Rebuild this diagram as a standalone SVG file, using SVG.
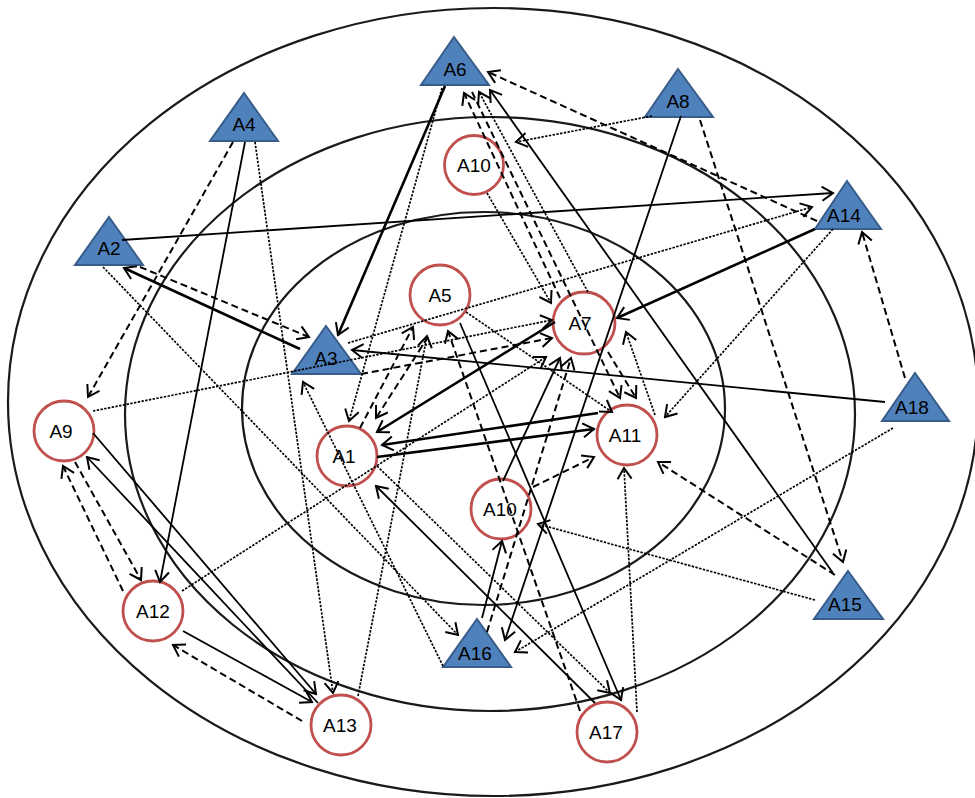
<svg xmlns="http://www.w3.org/2000/svg" width="975" height="798" viewBox="0 0 975 798">
<style>
.ring{fill:none;stroke:#1a1a1a;stroke-width:2.2}
.tri{fill:#4F81BD;stroke:#385D8A;stroke-width:2}
.cir{fill:#fff;stroke:#C0504D;stroke-width:2.8}
.lbl{font-family:"Liberation Sans",Arial,sans-serif;font-size:19px;fill:#000;text-anchor:middle}
.c{fill:none;stroke:#000;stroke-width:1.8;marker-end:url(#ah)}
.st{stroke-width:2.6}
.d{stroke-dasharray:7 4;stroke-width:2}
.dt{stroke-dasharray:2.4 1.4;stroke-width:1.7}
</style>
<defs>
<marker id="ah" viewBox="0 0 16 16" refX="14" refY="8" markerWidth="16" markerHeight="16" markerUnits="userSpaceOnUse" orient="auto">
<path d="M3,1 L14,8 L3,15" fill="none" stroke="#000" stroke-width="2"/>
</marker>
</defs>
<rect width="975" height="798" fill="#fff"/>
<g id="rings">
<ellipse class="ring" cx="493" cy="402" rx="485" ry="394"/>
<ellipse class="ring" cx="490" cy="414" rx="365" ry="297"/>
<ellipse class="ring" cx="483.5" cy="408.5" rx="241.5" ry="196.5"/>
</g>
<g id="nodes">
<g id="A6"><polygon class="tri" points="454,37 489,85 421,85"/><text class="lbl" x="455" y="76">A6</text></g>
<g id="A4"><polygon class="tri" points="244,93 278,141 210,141"/><text class="lbl" x="244" y="131">A4</text></g>
<g id="A2"><polygon class="tri" points="109,217 143,265 75,265"/><text class="lbl" x="109" y="255">A2</text></g>
<g id="A3"><polygon class="tri" points="326,326 361,374 292,374"/><text class="lbl" x="326" y="365">A3</text></g>
<g id="A8"><polygon class="tri" points="678,69 713,117 645,117"/><text class="lbl" x="678" y="108">A8</text></g>
<g id="A14"><polygon class="tri" points="847,181 881,229 815,229"/><text class="lbl" x="844" y="222">A14</text></g>
<g id="A18"><polygon class="tri" points="915,373 949,421 882,421"/><text class="lbl" x="912" y="414">A18</text></g>
<g id="A15"><polygon class="tri" points="848,571 883,619 814,619"/><text class="lbl" x="845" y="611">A15</text></g>
<g id="A16"><polygon class="tri" points="477,619 511,667 443,667"/><text class="lbl" x="475" y="660">A16</text></g>
<g id="A10a"><circle class="cir" cx="474" cy="165" r="29.5"/><text class="lbl" x="474" y="172">A10</text></g>
<g id="A5"><circle class="cir" cx="440" cy="295" r="30"/><text class="lbl" x="440" y="302">A5</text></g>
<g id="A7"><circle class="cir" cx="584" cy="323" r="31"/><text class="lbl" x="580" y="330">A7</text></g>
<g id="A1"><circle class="cir" cx="347" cy="456" r="30"/><text class="lbl" x="344" y="463">A1</text></g>
<g id="A11"><circle class="cir" cx="627" cy="435" r="30"/><text class="lbl" x="625" y="442">A11</text></g>
<g id="A10b"><circle class="cir" cx="501" cy="509" r="30"/><text class="lbl" x="500" y="516">A10</text></g>
<g id="A9"><circle class="cir" cx="64" cy="431" r="30"/><text class="lbl" x="61" y="438">A9</text></g>
<g id="A12"><circle class="cir" cx="153" cy="611" r="30"/><text class="lbl" x="153" y="618">A12</text></g>
<g id="A13"><circle class="cir" cx="341" cy="725" r="30"/><text class="lbl" x="340" y="732">A13</text></g>
<g id="A17"><circle class="cir" cx="607" cy="732" r="30"/><text class="lbl" x="606" y="739">A17</text></g>
</g>
<g id="connectors">
<path class="c" d="M122,240 L833,193"/>
<path class="c st" d="M300,349 L124,268"/>
<path class="c d" d="M140,267 L309,337"/>
<path class="c dt" d="M103,267 L458,635"/>
<path class="c d" d="M233,142 L88,397"/>
<path class="c" d="M245,142 L160,582"/>
<path class="c dt" d="M255,142 L333,693"/>
<path class="c st" d="M445,86 L338,335"/>
<path class="c dt" d="M442,88 L349,421"/>
<path class="c dt" d="M652,116 L516,142"/>
<path class="c d" d="M817,221 L488,72"/>
<path class="c d" d="M560,298 L464,93"/>
<path class="c d" d="M472,92 L620,398"/>
<path class="c dt" d="M588,292 L479,92"/>
<path class="c d" d="M608,352 L636,398"/>
<path class="c" d="M833,573 L490,90"/>
<path class="c dt" d="M348,343 L812,207"/>
<path class="c d" d="M361,374 L552,338"/>
<path class="c dt" d="M93,411 L552,320"/>
<path class="c" d="M885,402 L352,350"/>
<path class="c dt" d="M443,666 L303,382"/>
<path class="c dt" d="M358,696 L427,336"/>
<path class="c d" d="M360,428 L413,327"/>
<path class="c d" d="M428,337 L376,418"/>
<path class="c d" d="M580,711 L448,331"/>
<path class="c" d="M460,323 L621,700"/>
<path class="c dt" d="M466,312 L612,412"/>
<path class="c st" d="M555,322 L377,432"/>
<path class="c st" d="M598,413 L382,445"/>
<path class="c st" d="M377,457 L594,429"/>
<path class="c" d="M595,703 L376,486"/>
<path class="c dt" d="M377,466 L610,693"/>
<path class="c dt" d="M182,591 L546,357"/>
<path class="c" d="M503,481 L560,358"/>
<path class="c d" d="M487,632 L571,358"/>
<path class="c" d="M482,618 L502,541"/>
<path class="c" d="M681,116 L505,640"/>
<path class="c d" d="M533,487 L594,457"/>
<path class="c dt" d="M815,600 L538,524"/>
<path class="c dt" d="M893,428 L515,652"/>
<path class="c st" d="M815,229 L617,318"/>
<path class="c dt" d="M833,229 L665,417"/>
<path class="c dt" d="M655,415 L626,332"/>
<path class="c d" d="M835,575 L658,462"/>
<path class="c dt" d="M637,712 L624,468"/>
<path class="c d" d="M700,120 L843,562"/>
<path class="c d" d="M905,378 L862,232"/>
<path class="c d" d="M75,462 L141,580"/>
<path class="c d" d="M123,591 L63,466"/>
<path class="c" d="M93,433 L316,694"/>
<path class="c" d="M318,703 L87,457"/>
<path class="c" d="M183,631 L312,702"/>
<path class="c d" d="M302,721 L173,645"/>
<path class="c dt" d="M487,193 L551,303"/>
</g>
</svg>
